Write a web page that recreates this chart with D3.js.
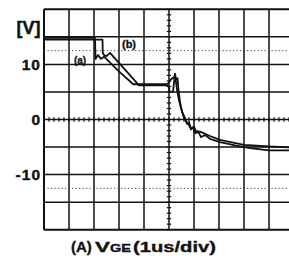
<!DOCTYPE html>
<html><head><meta charset="utf-8">
<script src="https://cdn.jsdelivr.net/npm/d3@7"></script>
<style>html,body{margin:0;padding:0;background:#fff;}svg{display:block;}</style>
</head><body>
<svg id="c" width="289" height="256"></svg>
<script>
// ---- data ----
const timeTicks = [0,1,2,3,4,5,6,7,8,9,10];          // us (1us/div)
const voltTicks = [-20,-15,-10,-5,0,5,10,15,20];     // V (5V/div)
const voltLabels = [10,0,-10];
const dottedVolts = [12.5,-12.5];
const traceATime = [0,2.04,2.06,2.16,2.28,2.4,3.03,3.57,4.9,4.98,5.06,5.2,5.28,5.32,5.4,5.48,5.56,5.64,5.72,5.8,5.88,5.96,6.04,6.16,6.28,6.44,6.64,7.04,7.64,8.24,9,10];
const traceAVolt = [14.8,14.8,11.0,11.7,11.0,11.4,8.6,6.4,6.4,6.6,7.2,7.7,6.8,5.4,3.5,2.1,1.0,0.3,-0.8,-0.5,-1.7,-1.4,-2.5,-2.1,-3.2,-2.8,-3.5,-4.1,-4.7,-5.2,-5.6,-5.6];
const traceBTime = [0,2.34,2.35,2.4,2.5,2.64,3.33,3.8,4.9,4.98,5.04,5.16,5.24,5.28,5.34,5.38,5.44,5.52,5.6,5.72,5.8,5.88,6.0,6.1,6.24,6.64,7.04,8,9,10];
const traceBVolt = [14.5,14.5,12.1,11.7,11.5,12.1,8.6,6.2,6.2,6.0,5.0,5.0,8.3,7.2,7.5,5.4,3.2,1.4,0.3,-0.6,-1.0,-1.8,-1.3,-2.4,-2.2,-3.0,-3.7,-4.6,-4.9,-5.1];

const svg = d3.select("#c");
const x = d3.scaleLinear().domain([0,10]).range([44,294]);
const y = d3.scaleLinear().domain([-20,20]).range([229.7,9.3]);
const ink = "#111";
const font = "Liberation Sans, Arial, sans-serif";

// grid
svg.append("g").selectAll("line").data(timeTicks).join("line")
  .attr("x1",d=>x(d)).attr("x2",d=>x(d)).attr("y1",y(20)).attr("y2",y(-20))
  .attr("stroke",ink).attr("stroke-width",d=>d===0?2:1.5);
svg.append("g").selectAll("line").data(voltTicks).join("line")
  .attr("x1",x(0)).attr("x2",x(10)).attr("y1",d=>y(d)).attr("y2",d=>y(d))
  .attr("stroke",ink).attr("stroke-width",d=>(d===20||d===-20)?2:1.5);
svg.append("g").selectAll("line").data(dottedVolts).join("line")
  .attr("x1",x(0)).attr("x2",x(10)).attr("y1",d=>y(d)).attr("y2",d=>y(d))
  .attr("stroke","#444").attr("stroke-width",1).attr("stroke-dasharray","1.2,2.3");

// minor ticks on centre axes
const hMinor = d3.range(0,10.01,0.2);
svg.append("g").selectAll("line").data(hMinor).join("line")
  .attr("x1",d=>x(d)).attr("x2",d=>x(d)).attr("y1",y(0)-2.2).attr("y2",y(0)+2.2)
  .attr("stroke",ink).attr("stroke-width",1.2);
const vMinor = d3.range(-20,20.01,1);
svg.append("g").selectAll("line").data(vMinor).join("line")
  .attr("x1",x(5)-2.2).attr("x2",x(5)+2.2).attr("y1",d=>y(d)).attr("y2",d=>y(d))
  .attr("stroke",ink).attr("stroke-width",1.2);

// y axis labels
const yAxis = d3.axisLeft(y).tickValues(voltLabels).tickSize(0).tickPadding(3).tickFormat(d=>String(d));
const ga = svg.append("g").attr("transform",`translate(${x(0)},0)`).call(yAxis);
ga.select(".domain").remove();
ga.selectAll("text").attr("font-family",font)
  .attr("font-weight","bold").attr("font-size",15.5).attr("fill",ink)
  .attr("stroke",ink).attr("stroke-width",0.4).attr("letter-spacing",1);

svg.append("text").attr("x",28.5).attr("y",34).attr("text-anchor","middle")
  .attr("font-family",font).attr("font-weight","bold")
  .attr("font-size",18).attr("fill",ink).attr("stroke",ink).attr("stroke-width",0.4).text("[V]");

// traces
const line = d3.line().x(d=>x(d[0])).y(d=>y(d[1]));
svg.append("path").datum(d3.zip(traceATime,traceAVolt)).attr("d",line)
  .attr("fill","none").attr("stroke",ink).attr("stroke-width",1.8).attr("stroke-linejoin","round");
svg.append("path").datum(d3.zip(traceBTime,traceBVolt)).attr("d",line)
  .attr("fill","none").attr("stroke",ink).attr("stroke-width",1.8).attr("stroke-linejoin","round");

// trace labels
svg.append("text").attr("x",80).attr("y",63.5).attr("text-anchor","middle")
  .attr("font-family",font).attr("font-weight","bold")
  .attr("font-size",10).attr("fill",ink).attr("stroke",ink).attr("stroke-width",0.3).text("(a)");
svg.append("text").attr("x",129).attr("y",48).attr("text-anchor","middle")
  .attr("font-family",font).attr("font-weight","bold")
  .attr("font-size",11).attr("fill",ink).attr("stroke",ink).attr("stroke-width",0.3).text("(b)");

// bottom caption
const cap = svg.append("text").attr("y",251.5)
  .attr("font-family",font).attr("font-weight","bold")
  .attr("font-size",15).attr("fill",ink).attr("stroke",ink).attr("stroke-width",0.35);
cap.append("tspan").attr("x",71).text("(A)");
cap.append("tspan").attr("x",95).attr("textLength",15).attr("lengthAdjust","spacingAndGlyphs").text("V");
cap.append("tspan").attr("x",110).attr("font-size",10.5).attr("textLength",21).attr("lengthAdjust","spacingAndGlyphs").text("GE");
cap.append("tspan").attr("x",133).attr("textLength",83).attr("lengthAdjust","spacingAndGlyphs").text("(1us/div)");
</script>
</body></html>
